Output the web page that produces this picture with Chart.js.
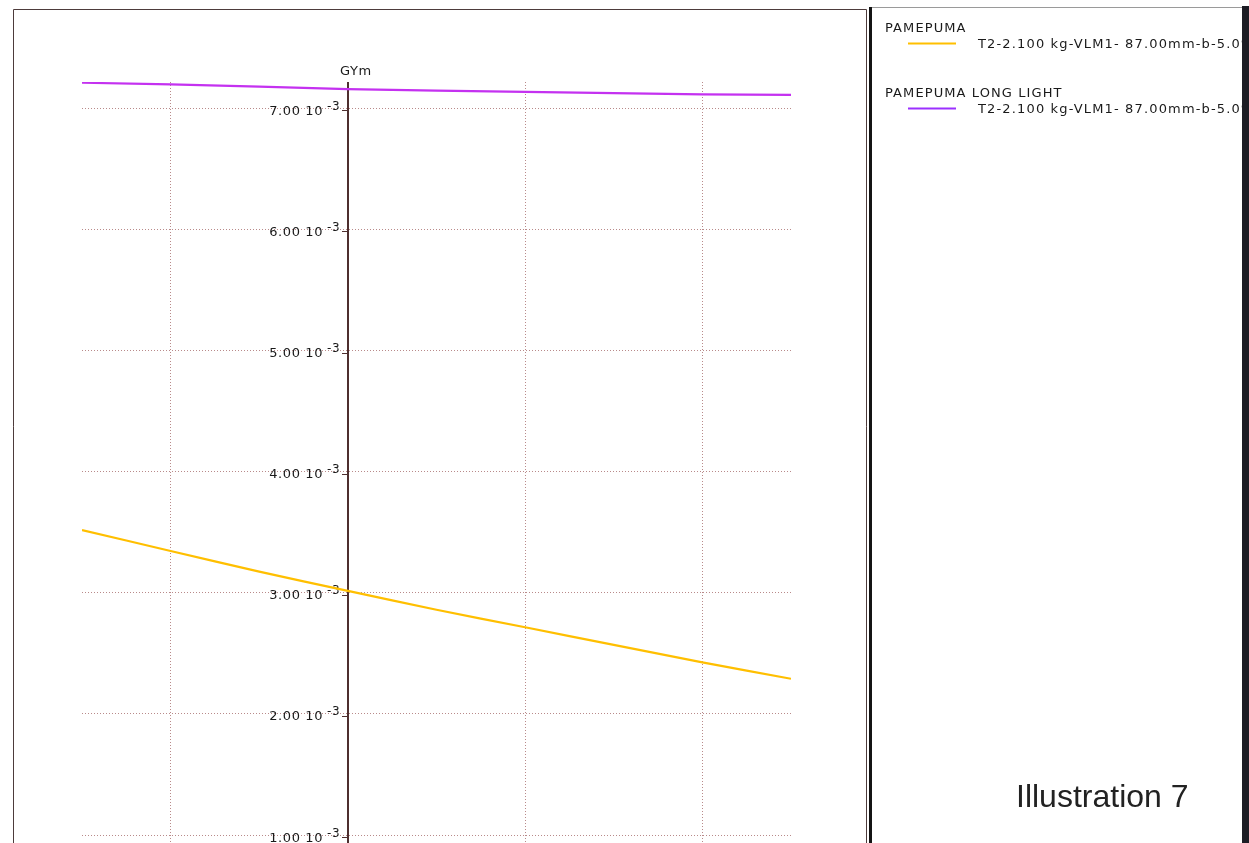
<!DOCTYPE html>
<html>
<head>
<meta charset="utf-8">
<title>GYm</title>
<script src="https://cdn.jsdelivr.net/npm/chart.js@4.4.0/dist/chart.umd.min.js"></script>
<style>
  html, body { margin: 0; padding: 0; background: #fff; overflow: hidden; }
  #wrap { position: relative; width: 1249px; height: 843px; }
</style>
</head>
<body>
<div id="wrap"><canvas id="c" width="1249" height="843"></canvas></div>
<script>
// Sample positions along the horizontal axis
const xValues = [-1.5, -1, -0.5, 0, 0.5, 1, 1.5, 2, 2.5];
// GYm values, in units of 10^-3
const pamepuma          = [3.518, 3.345, 3.175, 3.015, 2.860, 2.715, 2.570, 2.425, 2.290];
const pamepumaLongLight = [7.211, 7.197, 7.178, 7.158, 7.146, 7.135, 7.125, 7.115, 7.110];

const seriesNames   = ['PAMEPUMA', 'PAMEPUMA LONG LIGHT'];
const seriesDetails = ['T2-2.100 kg-VLM1- 87.00mm-b-5.0%', 'T2-2.100 kg-VLM1- 87.00mm-b-5.0%'];
const seriesColors  = ['#ffbf00', '#c431f0'];
const legendSwatch  = ['#ffbf00', '#9b30ff'];

const yTicks = [1, 2, 3, 4, 5, 6, 7];
const xTicks = [-1, 0, 1, 2];
const yExponent = '-3';
const yTitle = 'GYm';
const caption = 'Illustration 7';

const LABEL_FONT = '13px "DejaVu Sans", Verdana, sans-serif';
const SUP_FONT = '12px "DejaVu Sans", Verdana, sans-serif';

const toPoints = ys => xValues.map((x, i) => ({ x, y: ys[i] }));

const decor = {
  id: 'decor',
  beforeDatasetsDraw(chart) {
    const { ctx, chartArea, scales } = chart;
    const ax = Math.round(scales.x.getPixelForValue(0));
    ctx.save();
    // vertical axis through x = 0
    ctx.fillStyle = '#4e2f2f';
    ctx.fillRect(ax - 1, chartArea.top, 2, chart.height - chartArea.top);

    // tick labels: "n.nn 10^-3" with a short tick on the axis
    ctx.fillStyle = '#1a1a1a';
    ctx.letterSpacing = '0.6px';
    yTicks.forEach(v => {
      const gy = scales.y.getPixelForValue(v);
      ctx.font = LABEL_FONT;
      ctx.textAlign = 'right';
      ctx.textBaseline = 'alphabetic';
      ctx.fillText(v.toFixed(2) + ' 10', ax - 25, gy + 6.5);
      ctx.font = SUP_FONT;
      ctx.textAlign = 'left';
      ctx.fillText(yExponent, ax - 21, gy + 1.5);
      ctx.fillStyle = '#4e2f2f';
      ctx.fillRect(ax - 6, Math.round(gy + 2), 6, 1);
      ctx.fillStyle = '#1a1a1a';
    });
    ctx.font = LABEL_FONT;
    ctx.textAlign = 'left';
    ctx.fillText(yTitle, ax - 8, 75);
    ctx.letterSpacing = '0px';
    ctx.restore();
  },
  afterDraw(chart) {
    const { ctx } = chart;
    ctx.save();
    // left panel frame
    ctx.strokeStyle = '#4d3b3b';
    ctx.lineWidth = 1;
    ctx.beginPath();
    ctx.moveTo(13.5, chart.height);
    ctx.lineTo(13.5, 9.5);
    ctx.lineTo(866.5, 9.5);
    ctx.lineTo(866.5, chart.height);
    ctx.stroke();
    // legend panel frame
    ctx.strokeStyle = '#9a9a9a';
    ctx.beginPath();
    ctx.moveTo(872, 7.5);
    ctx.lineTo(1243, 7.5);
    ctx.stroke();
    ctx.fillStyle = '#141414';
    ctx.fillRect(869, 7, 3, chart.height - 7);
    ctx.fillStyle = '#1c1c24';
    ctx.fillRect(1242, 6, 7, chart.height - 6);

    // legend entries
    ctx.beginPath();
    ctx.rect(872, 8, 370, chart.height - 8);
    ctx.clip();
    ctx.font = LABEL_FONT;
    ctx.textAlign = 'left';
    ctx.textBaseline = 'alphabetic';
    const rows = [32, 97];
    chart.data.datasets.forEach((ds, i) => {
      const top = rows[i];
      const lineY = i === 0 ? 43.5 : 108.5;
      ctx.fillStyle = '#1a1a1a';
      ctx.letterSpacing = '1.1px';
      ctx.fillText(seriesNames[i], 885, top);
      ctx.strokeStyle = legendSwatch[i];
      ctx.lineWidth = 2;
      ctx.beginPath();
      ctx.moveTo(908, lineY);
      ctx.lineTo(956, lineY);
      ctx.stroke();
      ctx.letterSpacing = '1.15px';
      ctx.fillText(seriesDetails[i], 978, lineY + 4);
    });
    ctx.letterSpacing = '0px';

    // caption
    ctx.fillStyle = '#222';
    ctx.font = '32px "Liberation Sans", Arial, Helvetica, sans-serif';
    ctx.fillText(caption, 1016, 807);
    ctx.restore();
  }
};

new Chart(document.getElementById('c'), {
  type: 'line',
  data: {
    datasets: [
      { label: seriesNames[0], data: toPoints(pamepuma), borderColor: seriesColors[0], borderWidth: 2.2, pointRadius: 0, tension: 0.2, fill: false },
      { label: seriesNames[1], data: toPoints(pamepumaLongLight), borderColor: seriesColors[1], borderWidth: 2.2, pointRadius: 0, tension: 0, fill: false }
    ]
  },
  options: {
    responsive: false,
    animation: false,
    devicePixelRatio: 1,
    layout: { padding: { left: 82, top: 82, right: 1249 - 791, bottom: 0 } },
    plugins: { legend: { display: false }, tooltip: { enabled: false } },
    scales: {
      x: {
        type: 'linear',
        min: -1.5,
        max: 2.5,
        afterBuildTicks: s => { s.ticks = xTicks.map(v => ({ value: v })); },
        ticks: { display: false },
        grid: { color: '#b98a8a', lineWidth: 1, drawTicks: false },
        border: { display: false, dash: [1, 2] }
      },
      y: {
        type: 'linear',
        min: 0.934,
        max: 7.217,
        afterBuildTicks: s => { s.ticks = yTicks.map(v => ({ value: v })); },
        ticks: { display: false },
        grid: { color: '#b98a8a', lineWidth: 1, drawTicks: false },
        border: { display: false, dash: [1, 2] }
      }
    }
  },
  plugins: [decor]
});
</script>
</body>
</html>
